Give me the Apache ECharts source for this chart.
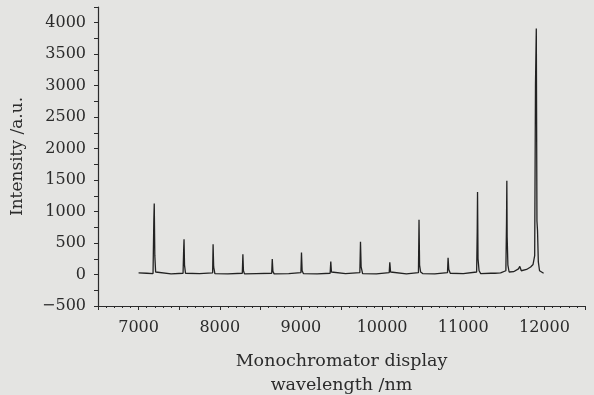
<!DOCTYPE html>
<html>
<head>
<meta charset="utf-8">
<script src="https://cdn.jsdelivr.net/npm/echarts@6/dist/echarts.min.js"></script>
<style>
  html, body { margin: 0; padding: 0; background: #e4e4e2; }
  #chart { width: 594px; height: 395px; }
</style>
</head>
<body>
<div id="chart"></div>
<script>
// spectrum (nm, a.u.)
const wavelengthNm = [
  7000, 7100, 7178, 7188, 7193, 7200, 7210, 7230, 7400,
  7548, 7556, 7560, 7566, 7578, 7750,
  7912, 7918, 7925, 7940, 8100,
  8278, 8285, 8292, 8305, 8450,
  8640, 8647, 8655, 8670, 8850,
  9000, 9007, 9015, 9030, 9200,
  9360, 9368, 9376, 9390, 9550,
  9726, 9734, 9742, 9760, 9930,
  10088, 10095, 10105, 10120, 10300,
  10448, 10455, 10462, 10475, 10500, 10650,
  10806, 10813, 10822, 10840, 11000,
  11165, 11172, 11176, 11182, 11195, 11215,
  11340, 11364, 11390, 11460,
  11525, 11533, 11537, 11541, 11550, 11565,
  11620, 11680, 11697, 11715, 11780, 11830,
  11860, 11880, 11890, 11900, 11908, 11915, 11925, 11940, 11990
];
const intensity = [
  25, 20, 15, 880, 1130, 300, 40, 15, 10,
  20, 420, 560, 150, 20, 15,
  25, 480, 120, 15, 10,
  20, 320, 60, 10, 15,
  20, 245, 50, 10, 15,
  30, 350, 60, 15, 10,
  20, 205, 40, 10, 15,
  30, 520, 120, 15, 10,
  30, 195, 40, 15, 10,
  30, 870, 150, 40, 15, 10,
  30, 265, 80, 20, 15,
  40, 680, 1310, 250, 60, 15,
  20, 50, 20, 25,
  60, 820, 1490, 600, 150, 40,
  45, 90, 130, 60, 80, 120,
  160, 300, 3030, 3910, 850, 700, 200, 60, 20
];
const xLabelStep = 1000;
const yLabelStep = 500;

const spectrum = wavelengthNm.map((w, i) => [w, intensity[i]]);

const chart = echarts.init(document.getElementById('chart'), null, { renderer: 'canvas' });
const ink = '#2b2b2b';
const font = 'DejaVu Serif';

chart.setOption({
  backgroundColor: '#e4e4e2',
  animation: false,
  grid: { left: 98, right: 9, top: 7, bottom: 89, containLabel: false, outerBoundsMode: 'none' },
  xAxis: {
    type: 'value',
    min: 6500,
    max: 12500,
    interval: 500,
    name: 'Monochromator display\nwavelength /nm',
    nameLocation: 'middle',
    nameGap: 43,
    nameTextStyle: { color: ink, fontFamily: font, fontSize: 17.5, lineHeight: 24 },
    axisLine: { onZero: false, lineStyle: { color: ink, width: 1.2 } },
    axisTick: { length: 4, lineStyle: { color: ink } },
    minorTick: { show: true, splitNumber: 5, length: 2, lineStyle: { color: ink } },
    splitLine: { show: false },
    axisLabel: {
      color: ink, fontFamily: font, fontSize: 16, margin: 14,
      formatter: v => (v % xLabelStep === 0 ? String(v) : '')
    }
  },
  yAxis: {
    type: 'value',
    min: -500,
    max: 4250,
    interval: 250,
    name: 'Intensity /a.u.',
    nameLocation: 'middle',
    nameGap: 72,
    nameTextStyle: { color: ink, fontFamily: font, fontSize: 17 },
    axisLine: { show: true, lineStyle: { color: ink, width: 1.2 } },
    axisTick: { show: true, length: 4, lineStyle: { color: ink } },
    splitLine: { show: false },
    axisLabel: {
      color: ink, fontFamily: font, fontSize: 16, margin: 12,
      formatter: v => (v % yLabelStep === 0 && v <= 4000 ? String(v).replace('-', '\u2212') : '')
    }
  },
  series: [{
    type: 'line',
    data: spectrum,
    showSymbol: false,
    lineStyle: { color: '#222', width: 1.3 }
  }]
});
</script>
</body>
</html>
